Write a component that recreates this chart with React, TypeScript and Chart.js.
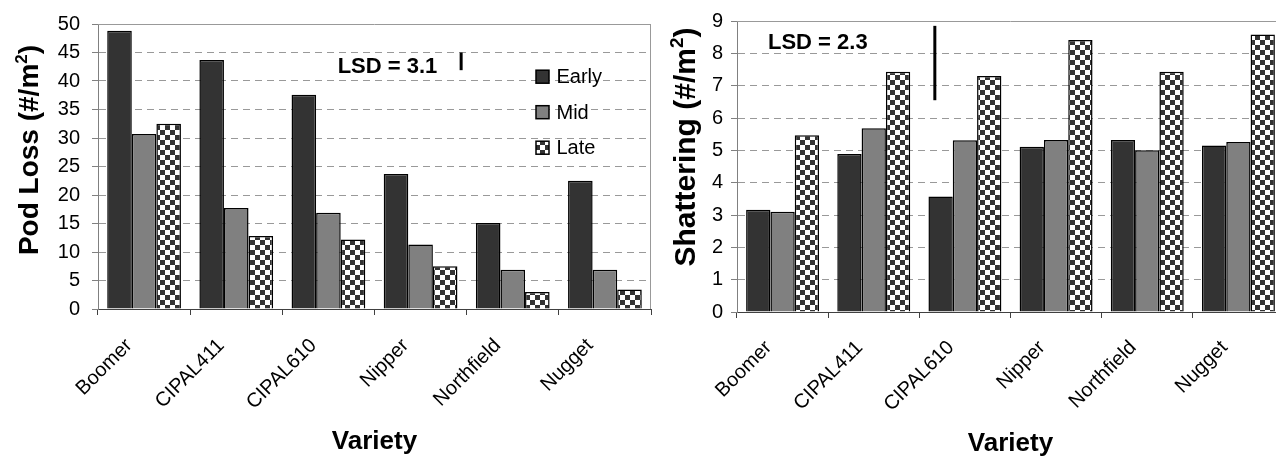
import React, { useEffect, useRef } from 'react';
import { Chart, registerables } from 'chart.js';

Chart.register(...registerables);

const FONT = "'Liberation Sans', Arial, Helvetica, sans-serif";

// ---- data ----
const varieties = ['Boomer', 'CIPAL411', 'CIPAL610', 'Nipper', 'Northfield', 'Nugget'];
const seriesNames = ['Early', 'Mid', 'Late'];

const podLossEarly = [48.8, 43.7, 37.6, 23.7, 15.1, 22.5];
const podLossMid = [30.7, 17.7, 16.9, 11.3, 6.9, 6.9];
const podLossLate = [32.5, 12.8, 12.2, 7.5, 3.0, 3.4];

const shatterEarly = [3.16, 4.89, 3.57, 5.11, 5.32, 5.15];
const shatterMid = [3.1, 5.68, 5.31, 5.32, 5.0, 5.26];
const shatterLate = [5.47, 7.43, 7.3, 8.41, 7.43, 8.58];

const podLossAxis = { max: 50, step: 5 };
const shatterAxis = { max: 9, step: 1 };

const podLossTitle = ['Pod Loss (#/m', '2', ')'];
const shatterTitle = ['Shattering (#/m', '2', ')'];
const xTitle = 'Variety';

const podLossLsd = 3.1;
const shatterLsd = 2.3;

// ---- helpers ----
let checkerCache: CanvasPattern | null = null;
function checker(ctx: CanvasRenderingContext2D): CanvasPattern {
  if (checkerCache) return checkerCache;
  const c = document.createElement('canvas');
  c.width = 10;
  c.height = 10;
  const g = c.getContext('2d')!;
  g.fillStyle = '#ffffff';
  g.fillRect(0, 0, 10, 10);
  g.fillStyle = '#333333';
  g.fillRect(0, 0, 5, 5);
  g.fillRect(5, 5, 5, 5);
  checkerCache = ctx.createPattern(c, 'repeat')!;
  return checkerCache;
}

const panelPlugin = {
  id: 'panel',
  beforeDatasetsDraw(chart: any, _args: any, opts: any) {
    const { ctx, chartArea: a } = chart;
    ctx.save();
    ctx.strokeStyle = '#999999';
    ctx.lineWidth = 1;
    ctx.beginPath();
    ctx.moveTo(a.left, Math.round(a.top) + 0.5);
    ctx.lineTo(a.right, Math.round(a.top) + 0.5);
    if (opts.rightFrame) {
      ctx.moveTo(Math.round(a.right) - 0.5, a.top);
      ctx.lineTo(Math.round(a.right) - 0.5, a.bottom);
    }
    ctx.stroke();
    ctx.restore();
  },
  afterDraw(chart: any, _args: any, opts: any) {
    const { ctx } = chart;
    const xs = chart.scales.x;
    const ys = chart.scales.y;
    // y title with superscript
    const [p1, p2, p3] = opts.yTitle;
    const size = opts.yTitleSize;
    ctx.save();
    ctx.translate(opts.yTitleX, opts.yTitleY);
    ctx.rotate(-Math.PI / 2);
    ctx.fillStyle = '#000';
    ctx.textAlign = 'left';
    ctx.textBaseline = 'alphabetic';
    const mainF = `bold ${size}px ${FONT}`;
    const supF = `bold ${Math.round(size * 0.62)}px ${FONT}`;
    ctx.font = mainF;
    const w1 = ctx.measureText(p1).width;
    const w3 = ctx.measureText(p3).width;
    ctx.font = supF;
    const w2 = ctx.measureText(p2).width;
    let cx = -(w1 + w2 + w3) / 2;
    ctx.font = mainF;
    ctx.fillText(p1, cx, 0);
    cx += w1;
    ctx.font = supF;
    ctx.fillText(p2, cx, -size * 0.4);
    cx += w2;
    ctx.font = mainF;
    ctx.fillText(p3, cx, 0);
    ctx.restore();

    // LSD bar and text
    const lsd = opts.lsd;
    ctx.save();
    ctx.strokeStyle = '#000';
    ctx.lineWidth = 3;
    const px = xs.getPixelForValue(lsd.xIdx);
    ctx.beginPath();
    ctx.moveTo(px, ys.getPixelForValue(lsd.base));
    ctx.lineTo(px, ys.getPixelForValue(lsd.base + lsd.value));
    ctx.stroke();
    ctx.fillStyle = '#000';
    ctx.font = `bold 22px ${FONT}`;
    ctx.textAlign = 'left';
    ctx.textBaseline = 'middle';
    ctx.fillText(`LSD = ${lsd.value}`, xs.getPixelForValue(lsd.textIdx), ys.getPixelForValue(lsd.textVal));
    ctx.restore();

    // legend
    if (opts.legend) {
      const L = opts.legend;
      ctx.save();
      chart.data.datasets.forEach((ds: any, i: number) => {
        const y = L.y + i * L.gap;
        ctx.fillStyle = ds.backgroundColor;
        ctx.fillRect(L.x, y - 6.5, 13, 13);
        ctx.strokeStyle = '#000';
        ctx.lineWidth = 1.5;
        ctx.strokeRect(L.x, y - 6.5, 13, 13);
        ctx.fillStyle = '#000';
        ctx.font = `20px ${FONT}`;
        ctx.textAlign = 'left';
        ctx.textBaseline = 'middle';
        ctx.fillText(ds.label, L.x + 20.5, y + 1);
      });
      ctx.restore();
    }
  },
};

type PanelProps = {
  width: number;
  left: number;
  early: number[];
  mid: number[];
  late: number[];
  axis: { max: number; step: number };
  yWidth: number;
  xHeight: number;
  padRight: number;
  yPad: number;
  xPad: number;
  xLabelOffset: number;
  xTitlePad: number;
  panel: any;
};

function Panel(p: PanelProps) {
  const ref = useRef<HTMLCanvasElement>(null);
  useEffect(() => {
    const canvas = ref.current!;
    const ctx = canvas.getContext('2d')!;
    const pat = checker(ctx);
    const values = [p.early, p.mid, p.late];
    const fills = ['#333333', '#808080', pat];
    const chart = new Chart(canvas, {
      type: 'bar',
      data: {
        labels: varieties,
        datasets: seriesNames.map((name, i) => ({
          label: name,
          data: values[i],
          backgroundColor: fills[i] as any,
          borderColor: '#000000',
          borderWidth: 1.5,
          categoryPercentage: 0.8,
          barPercentage: 1,
        })),
      },
      options: {
        responsive: false,
        animation: false,
        devicePixelRatio: 1,
        layout: { padding: { left: 0, top: 21, right: p.padRight, bottom: 0 } },
        plugins: {
          legend: { display: false },
          tooltip: { enabled: false },
          panel: p.panel,
        } as any,
        scales: {
          x: {
            grid: {
              offset: true,
              drawOnChartArea: false,
              drawTicks: true,
              tickLength: 6,
              color: '#404040',
              tickColor: '#404040',
            },
            border: { display: true, color: '#404040', width: 1 },
            ticks: {
              color: '#000',
              font: { size: 20, family: FONT },
              minRotation: 45,
              maxRotation: 45,
              autoSkip: false,
              padding: p.xPad,
              labelOffset: p.xLabelOffset,
            },
            title: {
              display: true,
              text: xTitle,
              color: '#000',
              font: { size: 26, weight: 'bold', family: FONT },
              padding: { top: 0, bottom: p.xTitlePad },
            },
            afterFit: (s: any) => {
              s.height = p.xHeight;
            },
          },
          y: {
            min: 0,
            max: p.axis.max,
            ticks: {
              stepSize: p.axis.step,
              color: '#000',
              font: { size: 20, family: FONT },
              padding: p.yPad,
            },
            grid: {
              color: (c: any) => (c.tick && c.tick.value === 0 ? 'rgba(0,0,0,0)' : '#999999'),
              tickColor: '#808080',
              tickLength: 6,
              tickBorderDash: [],
            },
            border: { display: true, color: '#808080', width: 1, dash: [7, 5] },
            afterFit: (s: any) => {
              s.width = p.yWidth;
            },
          },
        },
      } as any,
      plugins: [panelPlugin],
    });
    return () => chart.destroy();
  }, []);
  return (
    <div style={{ position: 'absolute', left: p.left, top: 0, width: p.width, height: 459 }}>
      <canvas ref={ref} width={p.width} height={459} style={{ display: 'block' }} />
    </div>
  );
}

export default function App() {
  return (
    <div
      style={{
        position: 'fixed',
        left: 0,
        top: 0,
        width: 1276,
        height: 459,
        overflow: 'hidden',
        background: '#ffffff',
      }}
    >
      <Panel
        width={660}
        left={0}
        early={podLossEarly}
        mid={podLossMid}
        late={podLossLate}
        axis={podLossAxis}
        yWidth={98}
        xHeight={150}
        padRight={9}
        yPad={12}
        xPad={19}
        xLabelOffset={-15}
        xTitlePad={2}
        panel={{
          rightFrame: true,
          yTitle: podLossTitle,
          yTitleSize: 28,
          yTitleX: 38,
          yTitleY: 150,
          lsd: { value: podLossLsd, base: 41.9, xIdx: 3.44, textIdx: 2.1, textVal: 42.4 },
          legend: { x: 536, y: 76.7, gap: 35.5 },
        }}
      />
      <Panel
        width={650}
        left={650}
        early={shatterEarly}
        mid={shatterMid}
        late={shatterLate}
        axis={shatterAxis}
        yWidth={87}
        xHeight={147}
        padRight={16}
        yPad={8}
        xPad={18}
        xLabelOffset={-14}
        xTitlePad={0}
        panel={{
          rightFrame: true,
          yTitle: shatterTitle,
          yTitleSize: 30,
          yTitleX: 45,
          yTitleY: 147,
          lsd: { value: shatterLsd, base: 6.55, xIdx: 1.67, textIdx: -0.16, textVal: 8.31 },
          legend: null,
        }}
      />
    </div>
  );
}
